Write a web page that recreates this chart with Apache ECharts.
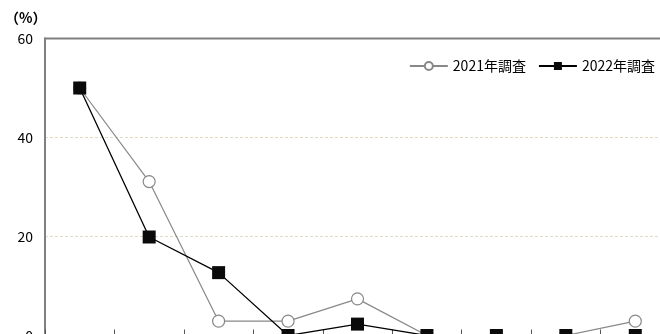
<!DOCTYPE html>
<html>
<head>
<meta charset="utf-8">
<script src="https://cdn.jsdelivr.net/npm/echarts@6/dist/echarts.min.js"></script>
<style>
html,body{margin:0;padding:0;background:#fff;}
#main{width:660px;height:334px;}
</style>
</head>
<body>
<div id="main"></div>
<script>
// データ
var categories = ['1', '2', '3', '4', '5', '6', '7', '8', '9'];
var yTicks = [0, 20, 40, 60];
var seriesNames = ['2021年調査', '2022年調査'];
var data2021 = [50, 31.1, 2.9, 2.9, 7.4, 0, 0, 0, 2.9];
var data2022 = [50, 19.9, 12.7, 0, 2.3, 0, 0, 0, 0];

var font = '"Noto Sans CJK JP", sans-serif';
var chart = echarts.init(document.getElementById('main'));
var option = {
	backgroundColor: '#ffffff',
	animation: false,
	title: {
		text: '（%）',
		left: 0,
		top: 6,
		textStyle: {fontFamily: font, fontSize: 14, fontWeight: 'bold', color: '#000'}
	},
	legend: {
		right: 0,
		top: 54,
		itemWidth: 38,
		itemHeight: 10,
		itemGap: 12,
		textStyle: {fontFamily: font, fontSize: 14, color: '#000'},
		data: seriesNames
	},
	grid: {
		left: 45,
		right: -10,
		top: 38.5,
		bottom: -1.5,
		outerBoundsMode: 'none',
		containLabel: false,
		show: true,
		borderColor: '#808080',
		borderWidth: 2
	},
	xAxis: {
		type: 'category',
		data: categories,
		boundaryGap: true,
		axisLine: {lineStyle: {color: '#808080', width: 2}},
		axisTick: {show: true, inside: true, length: 6, interval: 0, lineStyle: {color: '#555'}},
		axisLabel: {show: false}
	},
	yAxis: {
		type: 'value',
		min: yTicks[0],
		max: yTicks[yTicks.length - 1],
		interval: 20,
		axisLine: {show: true, lineStyle: {color: '#808080', width: 2}},
		axisTick: {show: false},
		axisLabel: {margin: 12, fontFamily: font, fontSize: 14, color: '#000'},
		splitLine: {showMaxLine: false, showMinLine: false, lineStyle: {color: '#e2dcbf', type: [3, 2], width: 1}}
	},
	series: [
		{
			name: seriesNames[0],
			type: 'line',
			data: data2021,
			symbol: 'circle',
			symbolSize: 12,
			itemStyle: {color: '#ffffff', borderColor: '#888888', borderWidth: 1.2},
			lineStyle: {color: '#888888', width: 1.2},
			z: 2
		},
		{
			name: seriesNames[1],
			type: 'line',
			data: data2022,
			symbol: 'rect',
			symbolSize: 13,
			itemStyle: {color: '#0a0a0a', borderColor: '#0a0a0a', borderWidth: 0},
			lineStyle: {color: '#000000', width: 1.3},
			z: 3
		}
	]
};
chart.setOption(option);
</script>
</body>
</html>
